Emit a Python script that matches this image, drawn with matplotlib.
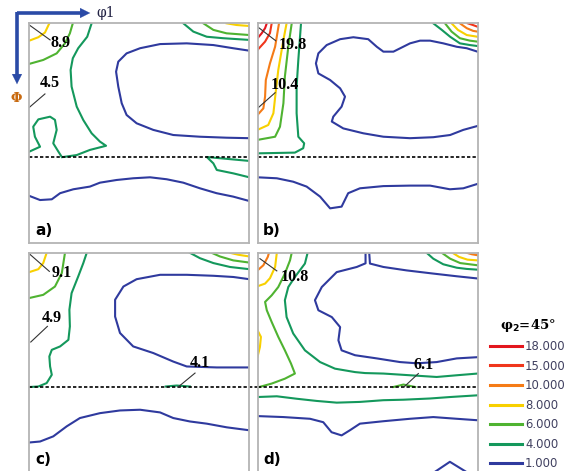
import matplotlib.pyplot as plt
from matplotlib.lines import Line2D

W, H = 567, 471

# contour levels of the phi2 = 45 deg ODF sections
levels = [18, 15, 10, 8, 6, 4, 1]
level_labels = ['18.000', '15.000', '10.000', '8.000', '6.000', '4.000', '1.000']
level_colors = ['#e3161e', '#f0361c', '#f57b16', '#f8d000', '#4fb331', '#14985c', '#2f3a9e']
gamma_fiber = 54.7   # Phi of the dashed line

# contour lines per section: (level, phi1 list, Phi list), degrees
a_lines = [
    (8, [0, 3.7, 6.4, 8.2], [7.1, 5.7, 3.8, 0]),
    (8, [80.7, 84.8, 90], [0, 0.7, 1.1]),
    (6, [0, 5.7, 11.2, 14.6, 16.6, 17.8], [16.6, 15.0, 12.3, 8.2, 4.1, 0]),
    (6, [71.2, 75.3, 80.7, 90], [0, 2.7, 4.1, 4.8]),
    (4, [25.5, 23.7, 20, 17.8, 16.9, 17.3, 19.4, 22.1, 25.5, 28.9, 31.4, 24.8, 19.4, 13.9],
        [0, 5.5, 10.2, 14.3, 19.1, 25.9, 34.1, 39.6, 45, 48.4, 50.1, 51.8, 53.9, 54.7]),
    (4, [0, 4.4, 2.3, 1.6, 3.7, 8.5, 10.5, 11.2, 9.8, 11.9, 13.3],
        [52.5, 50.5, 46.4, 42.3, 39.3, 38.2, 39.5, 43.6, 49.1, 52.5, 54.7]),
    (4, [63, 67.1, 72.6, 79.3, 90], [0, 3.4, 5.5, 6.1, 6.8]),
    (4, [90, 72.6, 75.3, 76.7, 83.5, 90], [56.3, 54.7, 57.3, 60, 61.4, 63]),
    (1, [90, 83.4, 75.3, 64.4, 53.5, 45.3, 39.8, 36.4, 35.5, 36.4, 37.8, 39.8, 43.9, 50.7, 58.9, 69.8, 80.7, 90],
        [11.2, 10.2, 8.9, 8.2, 8.5, 10.2, 12.3, 15.7, 19.8, 25.9, 32.7, 37.5, 40.9, 43.6, 45.7, 46.4, 46.8, 47]),
    (1, [0, 4.4, 9.2, 12.6, 18, 24.8, 28.9, 35.7, 42.5, 49.4, 56.2, 63, 69.8, 76.6, 83.4, 90],
        [70.6, 72.3, 72, 69.5, 67.9, 66.8, 65.2, 64.1, 63.4, 63, 63.8, 65.2, 67.5, 69.5, 70.9, 72.7]),
]

b_lines = [
    (18, [0, 1.7, 3.1, 3.8], [6.1, 4.1, 2.0, 0]),
    (15, [0, 3.1, 5.1, 5.8], [10.9, 7.5, 4.0, 0]),
    (15, [86, 88.1, 90], [0, 0.7, 1.4]),
    (10, [0, 2.4, 3.1, 3.4, 5.1, 7.2, 8.8], [37.5, 34.8, 30, 23.2, 16.4, 9.6, 0]),
    (10, [82.8, 85.6, 88.2, 90], [0, 2.0, 3.1, 3.4]),
    (8, [0, 4.4, 6.5, 7.4, 8.5, 10.6, 11.9], [43.6, 41.6, 36.8, 28.6, 19.1, 6.8, 0]),
    (8, [79.4, 82, 85.6, 90], [0, 2.7, 4.8, 5.5]),
    (6, [0, 7.2, 9.2, 10.6, 11.2, 12.6, 14], [47.7, 46.4, 42.3, 32.7, 21.8, 9.6, 0]),
    (6, [76.7, 79.4, 82.8, 86.9, 90], [0, 3.4, 6.1, 7.1, 7.5]),
    (4, [0, 15.3, 18.7, 19.1, 16.7, 16, 16, 16.7, 17.8], [53.2, 52.9, 51.1, 49.1, 46.4, 36.8, 25.9, 15, 0]),
    (4, [71.9, 75.4, 78.8, 82.8, 86.9, 90], [0, 2.7, 5.5, 8.2, 8.9, 9.3]),
    (1, [90, 85.6, 81.5, 76, 70.6, 66.5, 62.4, 59.6, 55.6, 51.5, 48.8, 45.3, 39.2, 33.8, 28.3, 24.9,
         23.9, 24.9, 29.7, 33.8, 35.8, 34.4, 31, 30.4, 35.1, 43.3, 51.5, 62.4, 71.9, 78.8, 84.2, 90],
        [11.6, 10.2, 9.6, 8.2, 7.1, 7.1, 8.2, 9.6, 11.6, 11.6, 9.6, 6.5, 5.7, 6.5, 8.9, 12.3,
         16.4, 20.5, 23.2, 26.6, 30, 34.1, 38.2, 40.2, 43, 45, 46.4, 47, 46.6, 45.7, 43.6, 42]),
    (1, [0, 7.9, 14.6, 20.1, 25.6, 29.7, 34.4, 37.1, 41.9, 51.5, 62.4, 70.6, 78.7, 84.2, 90],
        [63, 63.4, 64.8, 66.8, 70.9, 75.7, 75, 69.5, 67.5, 66.6, 66.4, 66.4, 67.9, 67.5, 65.7]),
]

c_lines = [
    (8, [0, 3.7, 5.7, 7.1], [7.9, 6.7, 4.2, 0]),
    (8, [82.1, 85.5, 90], [0, 0.8, 1.5]),
    (6, [0, 5.7, 10.5, 13.3, 14.6], [18.5, 17.2, 13.8, 8.3, 0]),
    (6, [74.6, 78, 83.4, 90], [0, 1.5, 3.1, 4.0]),
    (4, [23.5, 22.1, 20, 17.3, 16.4, 16.6, 16, 12.6, 9.2, 8.2, 8.5, 9.2, 7.1, 3.7, 0],
        [0, 4.2, 9.7, 16.5, 23.3, 30.1, 35.6, 38.3, 39.7, 42.4, 46.5, 49.9, 53.3, 54.7, 54.9]),
    (4, [65.7, 69.8, 75.3, 82.1, 90], [0, 2.2, 4.2, 5.8, 6.7]),
    (4, [55.8, 60.3, 65.7], [54.7, 54.3, 54.7]),
    (1, [90, 83.5, 75.3, 64.4, 53.5, 43.9, 38.5, 35.1, 35.1, 37.1, 42.5, 50.7, 58.9, 64.4, 76.7, 90],
        [10.8, 9.9, 9.4, 9, 9, 10.8, 13.8, 19.2, 26.1, 32.8, 38.3, 41, 44.5, 46.5, 46.9, 46.9]),
    (1, [0, 4.4, 9.8, 15.3, 20.7, 28.9, 37.1, 45.3, 53.5, 58.9, 65.7, 72.6, 80.8, 90],
        [77.6, 77.2, 75.1, 71, 67.6, 65.6, 64.5, 64.2, 65.3, 67.6, 69, 69.9, 71.4, 72.6]),
]

d_lines = [
    (10, [0, 2.4, 4.2, 4.7], [7.2, 5.1, 1.7, 0]),
    (10, [85.6, 87.7, 90], [0, 0.6, 1.0]),
    (8, [0, 3.1, 5.1, 7.2, 7.9], [13.7, 12.6, 10.4, 5.8, 0]),
    (8, [0, 1.4, 1.0, 0], [31.7, 34.4, 38.5, 42.6]),
    (8, [79.8, 82.5, 85.9, 90], [0, 1.7, 2.8, 3.1]),
    (6, [14, 13.3, 11.2, 8.5, 5.8, 3.1, 3.8, 5.8, 8.5, 11.2, 13.7, 15.3, 11.2, 5.8, 0],
        [0, 3.1, 8.5, 14, 17.4, 20.1, 23.5, 28.3, 34.4, 39.9, 45.3, 49.4, 51.5, 53.5, 55.1]),
    (6, [75.4, 78.8, 82.9, 90], [0, 2.4, 4.2, 5.1]),
    (6, [55.6, 59.7, 64.5], [54.9, 53.9, 54.9]),
    (4, [20.5, 19.4, 15.3, 12.6, 11.2, 11.9, 14.6, 19.4, 25.6, 31.7, 39.9, 44, 51.5, 62.4, 73.3, 81.5, 90],
        [0, 4.4, 9.9, 14, 19.4, 26.3, 33, 39.9, 44.7, 47.4, 48.8, 49.2, 49.4, 50.1, 50.8, 50.1, 49.4]),
    (4, [69.2, 71.9, 76, 81.5, 85.6, 90], [0, 2.4, 4.7, 6.1, 6.6, 6.9]),
    (4, [0, 7.9, 16, 24.2, 32.4, 41.9, 51.5, 59.7, 70.6, 78.8, 90],
        [59, 58.7, 59.7, 60.6, 61.3, 61, 60.3, 60.1, 59.6, 59, 58.3]),
    (1, [44.2, 44.2, 40.6, 32.4, 26.3, 23.5, 24.9, 30.4, 33.8, 33.1, 34.4, 39.9, 48.8, 58.3, 65.1, 73.3, 81.5, 90],
        [0, 4.3, 5.8, 7.9, 14, 19.4, 23.5, 26.3, 30.4, 35.8, 39.9, 41.9, 43.2, 44.7, 45.2, 44.7, 43.2, 42.7]),
    (1, [45.7, 46, 51.5, 61, 71.9, 81.5, 90], [0, 4.4, 5.8, 7.2, 8.5, 9.6, 10.5]),
    (1, [0, 10.6, 21.5, 26.9, 30.3, 34.4, 37.8, 41.9, 51.5, 62.4, 71.9, 81.5, 90],
        [66.8, 67.2, 67.9, 69.3, 73.4, 74.7, 72.6, 69.9, 68.9, 67.9, 67.2, 67.9, 68.5]),
    (1, [72, 78.7, 86], [90, 85.5, 90]),
]

# peak labels: (text, text position, leader start, leader end)
a_notes = [('8.9', (12.8, 8.2), (0, 0.7), (8.5, 6.8)), ('4.5', (8.5, 24.5), (0, 34.4), (6.4, 28.9))]
b_notes = [('19.8', (14.6, 8.9), (0, 1.4), (7.4, 7.1)), ('10.4', (11, 25.2), (0, 34.8), (7.2, 28.4))]
c_notes = [('9.1', (13.3, 8.3), (0, 0.4), (8.2, 7.6)), ('4.9', (9.2, 26.7), (0.6, 36.5), (7.4, 30.1)),
           ('4.1', (69.8, 45.1), (60.9, 54.9), (67.8, 49.2))]
d_notes = [('10.8', (15.3, 9.9), (1, 2.4), (7.9, 7.4)), ('6.1', (67.8, 46), (59.9, 54.9), (65.8, 49.4))]

panels = [('a)', a_lines, a_notes, (29.3, 23.3)), ('b)', b_lines, b_notes, (257.5, 23.3)),
          ('c)', c_lines, c_notes, (29.3, 252.8)), ('d)', d_lines, d_notes, (257.5, 252.8))]

color_of = dict(zip(levels, level_colors))

fig = plt.figure(figsize=(W / 100, H / 100), dpi=100)
num_font = dict(family='Liberation Serif', weight='bold', size=11.5)

for name, lines, notes, (px, py) in panels:
    ax = fig.add_axes([px / W, 1 - (py + 220) / H, 220 / W, 220 / H])
    ax.set_xlim(0, 90)
    ax.set_ylim(90, 0)
    ax.set_xticks([])
    ax.set_yticks([])
    for s in ax.spines.values():
        s.set_color('#b4b4b4')
        s.set_linewidth(1.3)
    for lev, xs, ys in lines:
        ax.plot(xs, ys, color=color_of[lev], lw=1.5, solid_joinstyle='round')
    if name in ('a)', 'b)', 'd)'):
        ax.axhline(gamma_fiber, color='black', lw=1.2, ls=(0, (2, 1.3)))
    else:
        ax.plot([0, 93.6], [gamma_fiber, gamma_fiber], color='black', lw=1.2,
                ls=(0, (2, 1.3)), clip_on=False)
    for txt, tpos, p0, p1 in notes:
        ax.plot([p0[0], p1[0]], [p0[1], p1[1]], color='#333333', lw=0.8)
        ax.text(tpos[0], tpos[1], txt, ha='center', va='center', fontdict=num_font)
    ax.text(2.3, 84.6, name, ha='left', va='center', fontsize=11, fontweight='bold')

# overlay for the axis arrows
ov = fig.add_axes([0, 0, 1, 1], facecolor='none')
ov.set_xlim(0, W)
ov.set_ylim(H, 0)
ov.axis('off')
arrow_blue = '#2a4aa6'
ov.plot([17, 85], [13, 13], color=arrow_blue, lw=2.6, solid_capstyle='butt')
ov.plot([17, 17], [11.7, 78], color=arrow_blue, lw=2.6, solid_capstyle='butt')
ov.annotate('', xy=(93, 13), xytext=(80, 13),
            arrowprops=dict(arrowstyle='-|>', color=arrow_blue, lw=0.1, mutation_scale=18))
ov.annotate('', xy=(17, 87), xytext=(17, 74),
            arrowprops=dict(arrowstyle='-|>', color=arrow_blue, lw=0.1, mutation_scale=18))
ov.text(96, 13.5, 'φ1', ha='left', va='center', fontsize=10, family='DejaVu Serif', color='#222244')
ov.text(16, 99, 'Φ', ha='center', va='center', fontsize=9.5, family='DejaVu Serif',
        fontweight='bold', color='#c86a10')

handles = [Line2D([], [], color=c, lw=2.2) for c in level_colors]
leg = fig.legend(handles, level_labels, loc='upper left', bbox_to_anchor=(479 / W, 1 - 306 / H),
                 frameon=False, fontsize=8.4, handlelength=2.8, handletextpad=0.25,
                 labelspacing=0.56, title='φ$_\\mathbf{2}$=45°',
                 title_fontproperties=dict(weight='bold', size=9.5, family='DejaVu Serif'))
for t in leg.get_texts():
    t.set_color('#404060')

fig.savefig('out.png', dpi=100)
